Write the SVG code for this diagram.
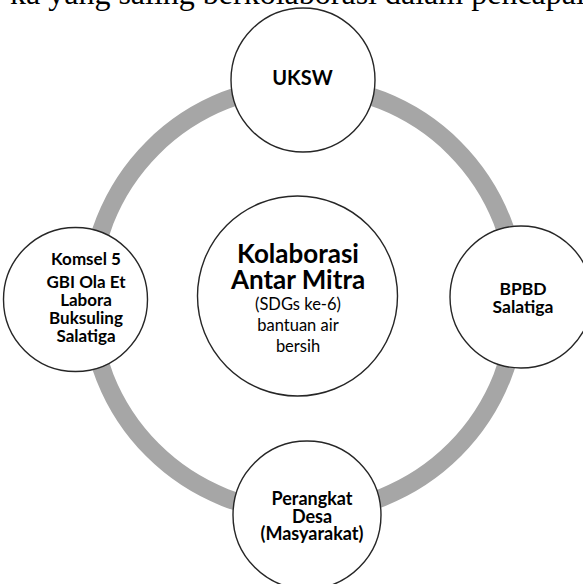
<svg xmlns="http://www.w3.org/2000/svg" width="583" height="584" viewBox="0 0 583 584">
<style>
.node{fill:#ffffff;stroke:#262626;stroke-width:1.4}
.lbl{font-family:Lato,"Liberation Sans",sans-serif;font-weight:bold;fill:#000;text-anchor:middle}
.reg{font-family:Lato,"Liberation Sans",sans-serif;fill:#000;text-anchor:middle}
.ring{fill:none;stroke:#A6A6A6;stroke-width:18}
</style>
<rect width="583" height="584" fill="#ffffff"/>
<text x="10" y="4" font-family="'Liberation Serif',serif" font-size="32" fill="#000">ka yang saling berkolaborasi dalam pencapai</text>
<g id="connectors">
<circle class="ring" cx="303.5" cy="299" r="213.5"/>
</g>
<g id="center">
<circle class="node" cx="297.5" cy="296" r="100"/>
<text class="lbl" x="298" y="263" font-size="26">Kolaborasi</text>
<text class="lbl" x="298" y="289" font-size="26">Antar Mitra</text>
<text class="reg" x="298" y="310" font-size="16.5">(SDGs ke-6)</text>
<text class="reg" x="298" y="331" font-size="16.5">bantuan air</text>
<text class="reg" x="298" y="352" font-size="16.5">bersih</text>
</g>
<g id="uksw">
<circle class="node" cx="303" cy="80" r="72"/>
<text class="lbl" x="302.5" y="85" font-size="20">UKSW</text>
</g>
<g id="komsel">
<circle class="node" cx="75.5" cy="299.5" r="72"/>
<text class="lbl" x="86" y="265" font-size="17">Komsel 5</text>
<text class="lbl" x="86" y="288" font-size="17">GBI Ola Et</text>
<text class="lbl" x="86" y="306" font-size="17">Labora</text>
<text class="lbl" x="86" y="324" font-size="17">Buksuling</text>
<text class="lbl" x="86" y="342" font-size="17">Salatiga</text>
</g>
<g id="bpbd">
<circle class="node" cx="521" cy="297" r="71"/>
<text class="lbl" x="523" y="295" font-size="17.5">BPBD</text>
<text class="lbl" x="523" y="313" font-size="17.5">Salatiga</text>
</g>
<g id="perangkat">
<circle class="node" cx="307" cy="515" r="74"/>
<text class="lbl" x="312" y="505" font-size="18">Perangkat</text>
<text class="lbl" x="312" y="523" font-size="18">Desa</text>
<text class="lbl" x="312" y="540" font-size="18">(Masyarakat)</text>
</g>
</svg>
